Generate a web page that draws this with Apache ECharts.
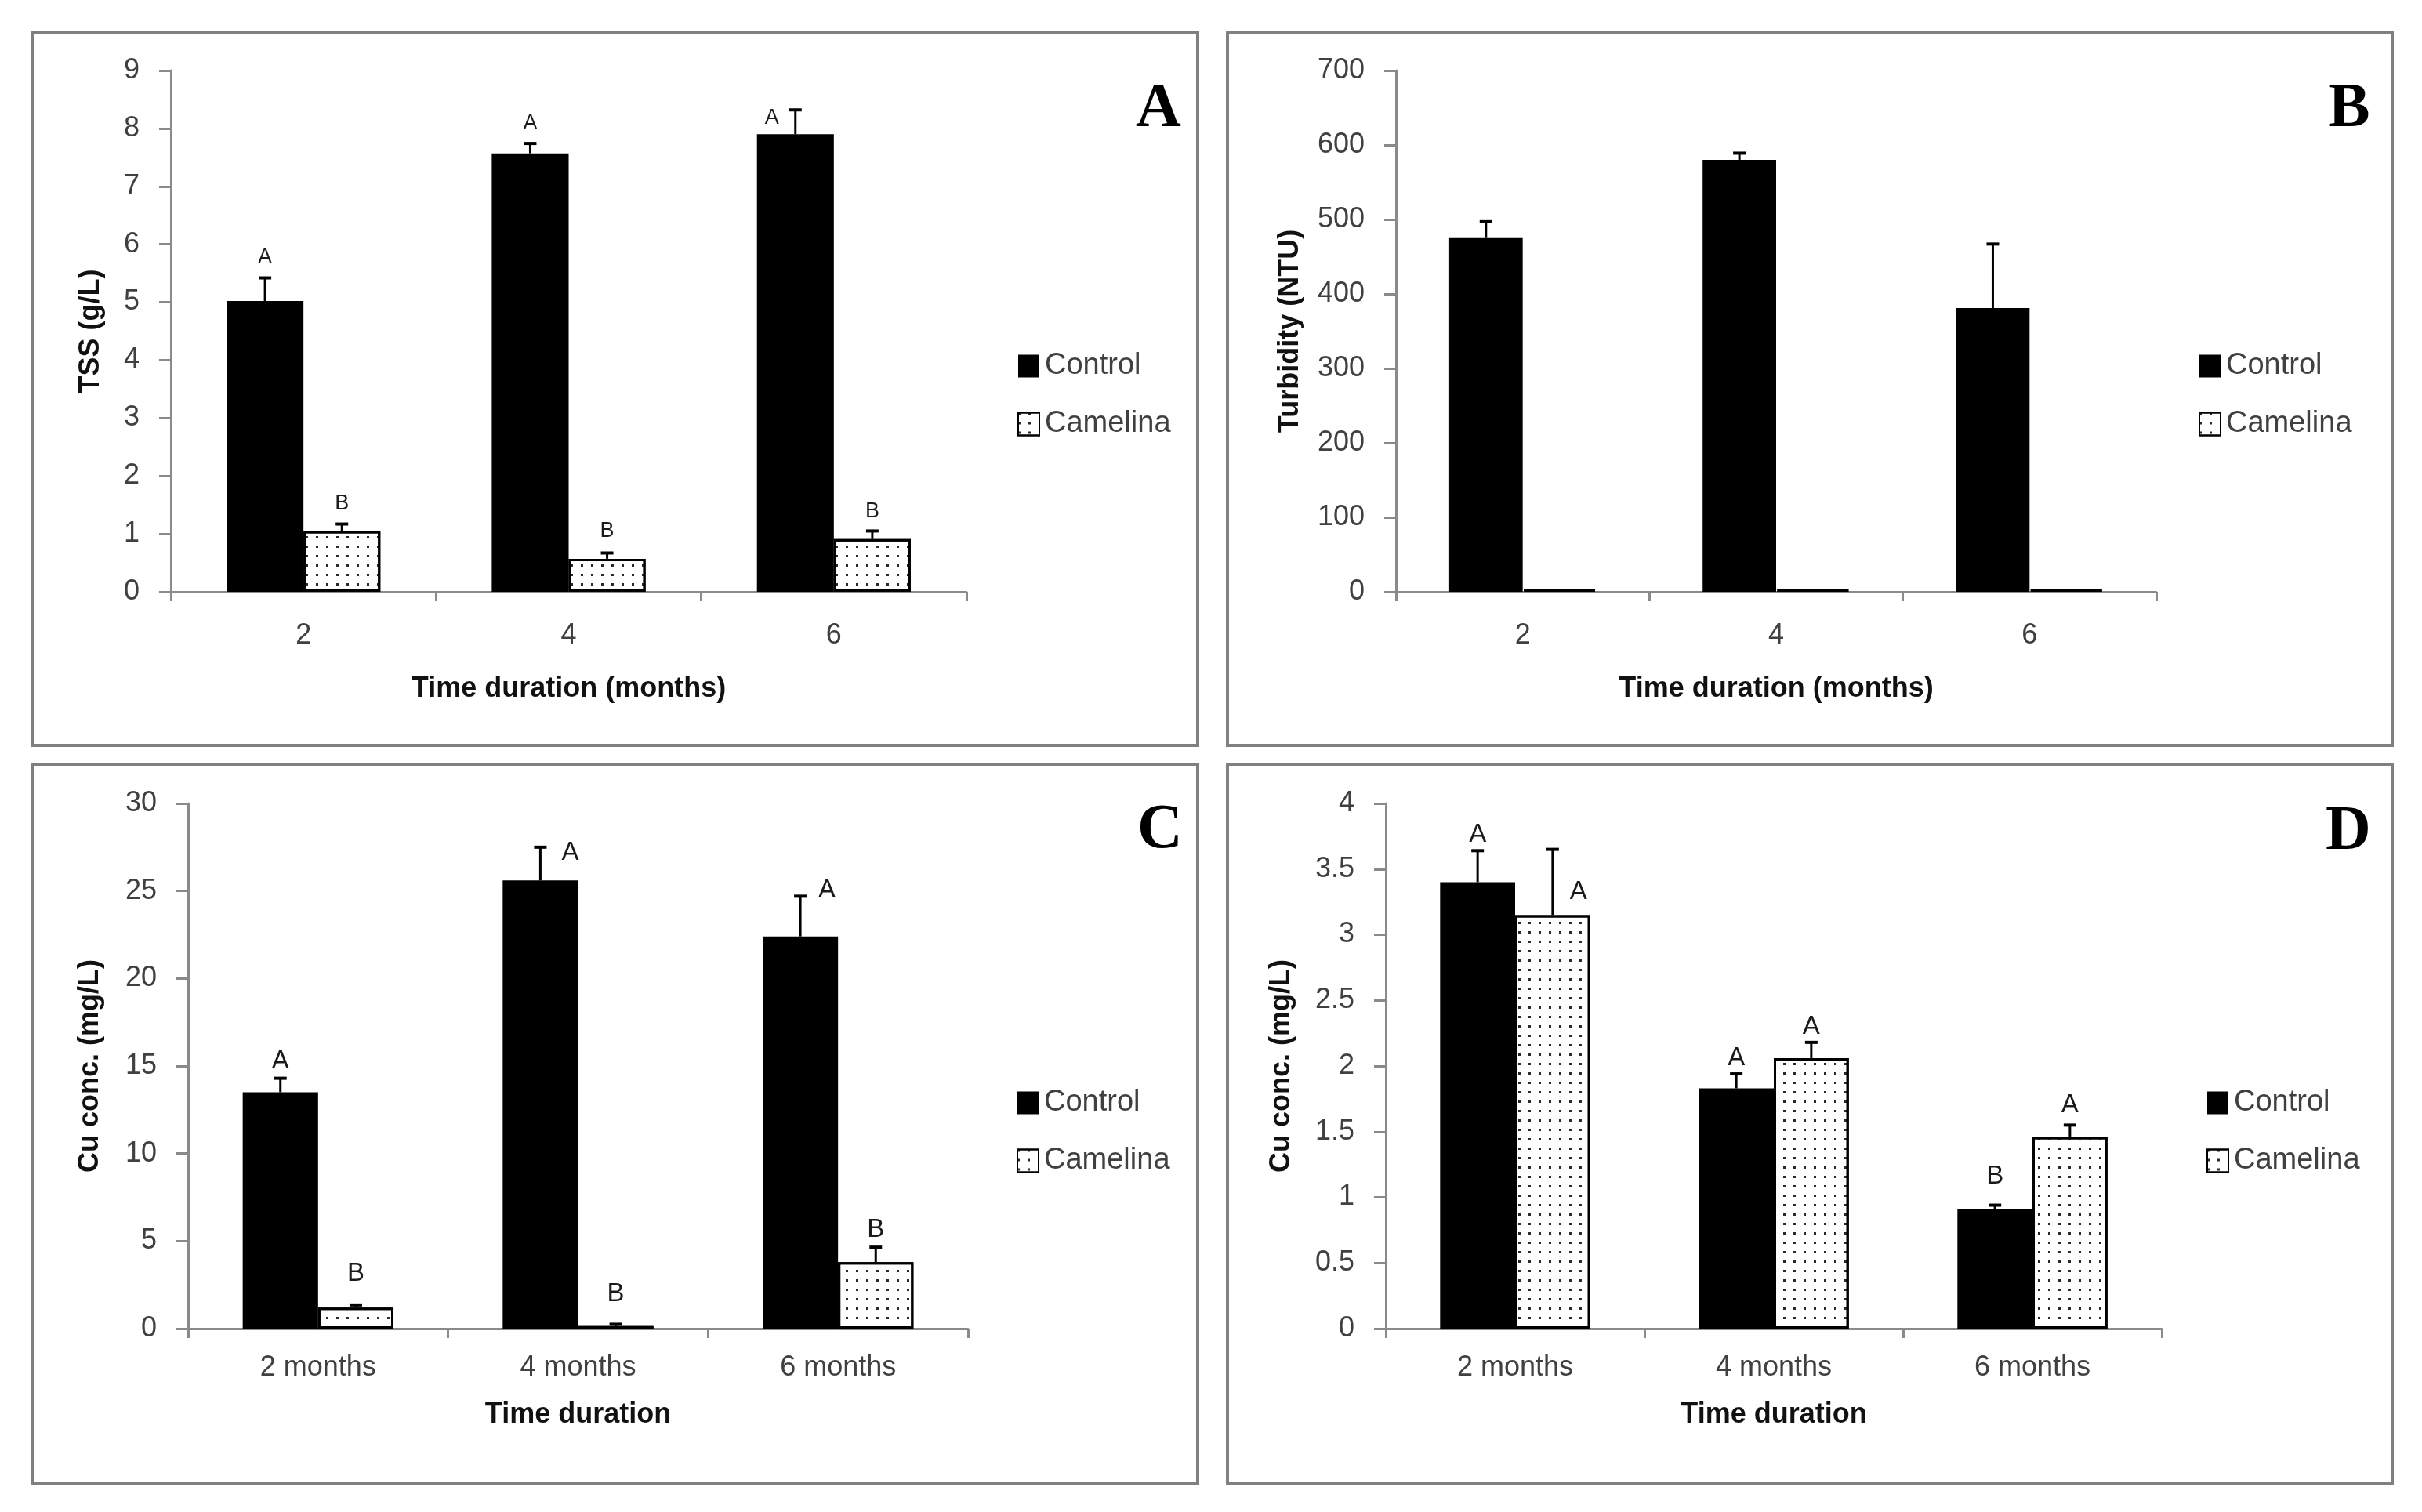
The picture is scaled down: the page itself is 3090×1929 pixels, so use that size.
<!DOCTYPE html>
<html>
<head>
<meta charset="utf-8">
<script src="https://cdn.jsdelivr.net/npm/echarts@6/dist/echarts.min.js"></script>
<style>
html,body{margin:0;padding:0;background:#fff;}
#chart{width:3090px;height:1929px;}
</style>
</head>
<body>
<div id="chart"></div>
<script>
// ---------- DATA ----------
const monthsNum = ['2', '4', '6'];
const monthsText = ['2 months', '4 months', '6 months'];
const seriesNames = ['Control', 'Camelina'];

// Panel A : TSS (g/L)
const tssControl = [5.02, 7.57, 7.90];
const tssControlErrTop = [5.42, 7.74, 8.32];
const tssCamelina = [1.05, 0.57, 0.91];
const tssCamelinaErrTop = [1.17, 0.67, 1.05];
const tssControlLetters = ['A', 'A', 'A'];
const tssCamelinaLetters = ['B', 'B', 'B'];

// Panel B : Turbidity (NTU)
const turbControl = [475, 580, 381];
const turbControlErrTop = [497, 589, 467];
const turbCamelina = [3, 3, 3];

// Panel C : Cu conc. (mg/L)
const cuCControl = [13.5, 25.6, 22.4];
const cuCControlErrTop = [14.3, 27.5, 24.7];
const cuCCamelina = [1.2, 0.14, 3.8];
const cuCCamelinaErrTop = [1.35, 0.25, 4.65];
const cuCControlLetters = ['A', 'A', 'A'];
const cuCCamelinaLetters = ['B', 'B', 'B'];

// Panel D : Cu conc. (mg/L)
const cuDControl = [3.40, 1.83, 0.91];
const cuDControlErrTop = [3.64, 1.94, 0.94];
const cuDCamelina = [3.15, 2.06, 1.46];
const cuDCamelinaErrTop = [3.65, 2.18, 1.55];
const cuDControlLetters = ['A', 'A', 'B'];
const cuDCamelinaLetters = ['A', 'A', 'A'];

// ---------- LAYOUT / STYLE ----------
const letterOffsets = { // pixel offsets of significance letters from the error-bar top
  A: { c: [[0, -26], [0, -26], [-30, 10]], m: [[0, -26], [0, -28], [0, -25]] },
  C: { c: [[0, -22], [38, 7], [34, -7]], m: [[0, -40], [0, -39], [0, -22]] },
  D: { c: [[0, -20], [0, -20], [0, -37]], m: [[33, 54], [0, -20], [0, -25]] }
};
const grids = [
  { left: 218, top: 90, width: 1015, height: 665 },
  { left: 1781, top: 90, width: 970, height: 665 },
  { left: 240, top: 1025, width: 995, height: 670 },
  { left: 1768, top: 1025, width: 990, height: 670 }
];
const BAR_GAP = '42%';
const BAR_FRAC = 0.29;
const AXIS_COLOR = '#8a8a8a';
const TEXT_COLOR = '#404040';
const FONT = '"Liberation Sans", Arial, sans-serif';

const decal = {
  symbol: 'rect', symbolSize: 1, color: '#2a2a2a',
  dashArrayX: [3, 9.3], dashArrayY: [3, 9], rotation: 0
};

function xAxisOpt(gi, cats, name, nameGap, margin) {
  return {
    type: 'category', gridIndex: gi, data: cats,
    name: name, nameLocation: 'middle', nameGap: nameGap,
    nameTextStyle: { fontFamily: FONT, fontWeight: 'bold', fontSize: 36, color: '#111' },
    axisLine: { show: true, lineStyle: { color: AXIS_COLOR, width: 3 } },
    axisTick: { show: true, length: 12, alignWithLabel: false, lineStyle: { color: AXIS_COLOR, width: 3 } },
    axisLabel: { fontFamily: FONT, fontSize: 36, color: TEXT_COLOR, margin: margin },
    splitLine: { show: false }
  };
}
function yAxisOpt(gi, max, interval, name, nameGap) {
  return {
    type: 'value', gridIndex: gi, min: 0, max: max, interval: interval,
    name: name, nameLocation: 'middle', nameRotate: 90, nameGap: nameGap,
    nameTextStyle: { fontFamily: FONT, fontWeight: 'bold', fontSize: 36, color: '#111' },
    axisLine: { show: true, lineStyle: { color: AXIS_COLOR, width: 3 } },
    axisTick: { show: true, length: 15, inside: false, lineStyle: { color: AXIS_COLOR, width: 3 } },
    axisLabel: { fontFamily: FONT, fontSize: 36, color: TEXT_COLOR, margin: 40 },
    splitLine: { show: false }
  };
}
function barSeries(gi, name, values) {
  const isControl = name === 'Control';
  return {
    type: 'bar', name: name, xAxisIndex: gi, yAxisIndex: gi, data: values,
    barGap: '0%', barCategoryGap: BAR_GAP,
    itemStyle: isControl
      ? { color: '#000' }
      : { color: '#fff', borderColor: '#000', borderWidth: 3, decal: decal },
    emphasis: { disabled: true }, z: 2
  };
}
function errSeries(gi, side, values, tops, letters, offsets, fontSize) {
  const data = values.map((v, i) => [i, v, tops ? tops[i] : v, letters ? letters[i] : '',
    offsets ? offsets[i][0] : 0, offsets ? offsets[i][1] : 0]);
  return {
    type: 'custom', xAxisIndex: gi, yAxisIndex: gi, data: data, z: 5, silent: true,
    clip: false,
    encode: { x: 0, y: 1 },
    renderItem: function (params, api) {
      const cat = api.value(0), val = api.value(1), top = api.value(2);
      const band = api.size([1, 0])[0];
      const bw = band * BAR_FRAC;
      const p0 = api.coord([cat, val]);
      const p1 = api.coord([cat, top]);
      const x = p0[0] + (side === 0 ? -bw / 2 : bw / 2);
      const children = [];
      if (tops) {
        children.push({ type: 'line', shape: { x1: x, y1: p0[1], x2: x, y2: p1[1] },
          style: { stroke: '#000', lineWidth: 3 } });
        children.push({ type: 'line', shape: { x1: x - 8, y1: p1[1], x2: x + 8, y2: p1[1] },
          style: { stroke: '#000', lineWidth: 4 } });
      }
      const letter = api.value(3);
      if (letter) {
        children.push({ type: 'text', style: {
          text: letter, x: x + api.value(4), y: p1[1] + api.value(5),
          textAlign: 'center', textVerticalAlign: 'middle',
          font: fontSize + 'px ' + FONT, fill: '#1a1a1a' } });
      }
      return { type: 'group', children: children };
    }
  };
}
function legendOpt(left, top) {
  return {
    data: seriesNames.map(n => ({ name: n, icon: 'rect' })),
    orient: 'vertical', left: left, top: top,
    itemWidth: 27, itemHeight: 29, itemGap: 36, selectedMode: false,
    textStyle: { fontFamily: FONT, fontSize: 38, color: TEXT_COLOR, padding: [0, 0, 0, 2] }
  };
}

const panelBoxes = [
  { x: 42, y: 42, w: 1486, h: 909 },
  { x: 1566, y: 42, w: 1486, h: 909 },
  { x: 42, y: 975, w: 1486, h: 918 },
  { x: 1566, y: 975, w: 1486, h: 918 }
];
const panelLetters = [
  { t: 'A', x: 1478, y: 140 }, { t: 'B', x: 2997, y: 140 },
  { t: 'C', x: 1480, y: 1060 }, { t: 'D', x: 2996, y: 1062 }
];

const graphic = [];
panelBoxes.forEach(b => graphic.push({ type: 'rect', shape: { x: b.x, y: b.y, width: b.w, height: b.h },
  style: { fill: 'none', stroke: '#808080', lineWidth: 4 }, silent: true }));
panelLetters.forEach(p => graphic.push({ type: 'text', x: p.x, y: p.y,
  style: { text: p.t, textAlign: 'center', textVerticalAlign: 'middle',
    font: 'bold 80px "Liberation Serif", "Times New Roman", serif', fill: '#000' }, silent: true }));

const option = {
  animation: false,
  backgroundColor: '#fff',
  grid: grids.map(g => Object.assign({ containLabel: false }, g)),
  legend: [legendOpt(1293, 443), legendOpt(2800, 443), legendOpt(1292, 1383), legendOpt(2810, 1383)],
  xAxis: [
    xAxisOpt(0, monthsNum, 'Time duration (months)', 106, 38),
    xAxisOpt(1, monthsNum, 'Time duration (months)', 106, 38),
    xAxisOpt(2, monthsText, 'Time duration', 92, 32),
    xAxisOpt(3, monthsText, 'Time duration', 92, 32)
  ],
  yAxis: [
    yAxisOpt(0, 9, 1, 'TSS (g/L)', 84),
    yAxisOpt(1, 700, 100, 'Turbidity (NTU)', 117),
    yAxisOpt(2, 30, 5, 'Cu conc. (mg/L)', 107),
    yAxisOpt(3, 4, 0.5, 'Cu conc. (mg/L)', 115)
  ],
  series: [
    barSeries(0, 'Control', tssControl), barSeries(0, 'Camelina', tssCamelina),
    barSeries(1, 'Control', turbControl), barSeries(1, 'Camelina', turbCamelina),
    barSeries(2, 'Control', cuCControl), barSeries(2, 'Camelina', cuCCamelina),
    barSeries(3, 'Control', cuDControl), barSeries(3, 'Camelina', cuDCamelina),
    errSeries(0, 0, tssControl, tssControlErrTop, tssControlLetters, letterOffsets.A.c, 27),
    errSeries(0, 1, tssCamelina, tssCamelinaErrTop, tssCamelinaLetters, letterOffsets.A.m, 27),
    errSeries(1, 0, turbControl, turbControlErrTop, null, null, 27),
    errSeries(2, 0, cuCControl, cuCControlErrTop, cuCControlLetters, letterOffsets.C.c, 33),
    errSeries(2, 1, cuCCamelina, cuCCamelinaErrTop, cuCCamelinaLetters, letterOffsets.C.m, 33),
    errSeries(3, 0, cuDControl, cuDControlErrTop, cuDControlLetters, letterOffsets.D.c, 33),
    errSeries(3, 1, cuDCamelina, cuDCamelinaErrTop, cuDCamelinaLetters, letterOffsets.D.m, 33)
  ],
  graphic: graphic
};

const chart = echarts.init(document.getElementById('chart'), null, { renderer: 'canvas' });
chart.setOption(option);
</script>
</body>
</html>
